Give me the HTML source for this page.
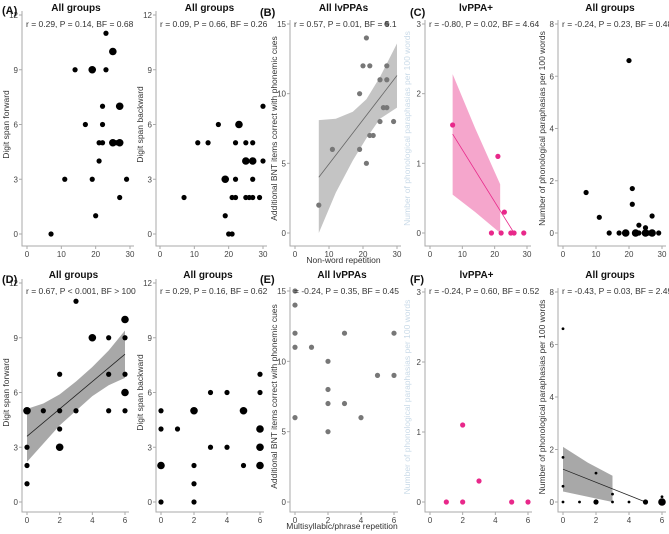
<!DOCTYPE html>
<html><head><meta charset="utf-8"><style>
body{margin:0;background:#fff;width:669px;height:534px;overflow:hidden}
svg{display:block;font-family:"Liberation Sans",sans-serif}
</style></head><body>
<svg id="fig" width="669" height="534"></svg>
<script>
// Panel data arrays
const a1X=[7,11,14,17,19,19,20,21,21,22,22,22,23,23,25,25,26,27,27,27,29];
const a1Y=[0,3,9,6,9,3,1,5,4,7,6,5,11,9,10,5,5,7,5,2,3];
const a1S=[0,0,0,0,1,0,0,0,0,0,0,0,0,0,1,1,0,1,1,0,0];
const a2X=[7,11,14,17,19,19,20,21,21,22,22,22,23,25,25,25,26,27,27,27,27,29,30,30];
const a2Y=[2,5,5,6,3,1,0,0,2,2,3,5,6,4,5,2,2,4,5,3,2,2,7,4];
const a2S=[0,0,0,0,1,0,0,0,0,0,0,0,1,1,0,0,0,1,0,0,0,0,0,0];
const bX=[7,11,19,19,20,21,21,22,22,23,25,25,26,27,27,27,29,27];
const bY=[2,6,10,6,12,14,5,12,7,7,11,8,9,12,11,9,8,15];
const cX=[7,21,23,19,22,25,26,29];
const cY=[1.55,1.1,0.3,0,0,0,0,0];
const c2X=[7,11,14,17,19,20,21,21,22,23,23,25,25,26,27,27,29];
const c2Y=[1.55,0.6,0,0,0,6.6,1.7,1.1,0,0.3,0,0.2,0,0,0.65,0,0];
const c2S=[0,0,0,0,1,0,0,0,1,0,0,0,1,0,0,1,0];
const dX=[0,0,0,0,1,2,2,2,2,3,3,4,5,5,5,6,6,6,6,6];
const dY=[5,3,2,1,5,7,5,4,3,11,5,9,9,7,5,10,9,7,6,5];
const dS=[1,0,0,0,0,0,0,0,1,0,0,1,0,0,0,1,0,0,1,0];
const d2X=[0,0,0,0,1,2,2,2,2,3,3,4,4,5,5,6,6,6,6,6];
const d2Y=[5,4,2,0,4,5,2,1,0,6,3,6,3,5,2,7,6,4,3,2];
const d2S=[0,0,1,0,0,1,0,0,0,0,0,0,0,1,0,0,0,1,1,1];
const eX=[0,0,0,0,0,1,2,2,2,2,3,3,4,5,6,6];
const eY=[15,14,12,11,6,11,10,8,7,5,12,7,6,9,12,9];
const fX=[1,2,2,3,5,6];
const fY=[0,1.1,0,0.3,0,0];
const f2X=[0,0,0,0,1,2,2,3,3,4,5,6,6];
const f2Y=[6.6,1.7,0.6,0,0,1.1,0,0.3,0,0,0,0.2,0];
const f2S=[0,0,0,0,0,0,1,0,0,0,1,0,2];
// fits: [x0,y0,x1,y1]; ribbons: x, lo, hi
const bFit=[7,4,30,11.3];
const bRibX=[7,12,17,21,25,30], bRibLo=[0,2.9,5.2,6.8,8.2,9], bRibHi=[8.1,8.2,8.7,9.6,11.2,13.6];
const cFit=[7,1.42,26,0];
const cRibX=[7,14,21.7], cRibLo=[0.55,0.3,0], cRibHi=[2.28,1.5,0.7];
const dFit=[0,3.6,6,8.1];
const dRibX=[0,1,2,3,4,5,6], dRibLo=[2.2,3.2,4.2,5.0,5.8,6.4,6.8], dRibHi=[5.1,5.4,5.9,6.6,7.4,8.3,9.4];
const fFit=[0,1.25,5,0];
const fRibX=[0,1.5,3], fRibLo=[0.4,0.2,0], fRibHi=[2.1,1.5,1.0];

const svg=document.getElementById('fig');
const NS='http://www.w3.org/2000/svg';
function el(tag,attrs,parent){const e=document.createElementNS(NS,tag);for(const k in attrs)e.setAttribute(k,attrs[k]);(parent||svg).appendChild(e);return e;}
function txt(s,attrs,parent){const e=el('text',attrs,parent);e.textContent=s;return e;}

function panel(p){
  const g=el('g',{});
  
  
  const sx=v=>p.x0+(v-p.xmin)/(p.xmax-p.xmin)*(p.x1-p.x0);
  const sy=v=>p.y0+(v-p.ymin)/(p.ymax-p.ymin)*(p.y1-p.y0);
  const ax=el('path',{d:`M${p.ax} ${sy(p.ymax)-4}V${p.ay}H${sx(p.xmax)+4}`,fill:'none',stroke:'#aaa','stroke-width':1},g);
  
  p.xt.forEach(v=>{el('line',{x1:sx(v),x2:sx(v),y1:p.ay,y2:p.ay+3,stroke:'#aaa'},g);
    const t=txt(v,{x:sx(v),y:p.ay+11,'font-size':8,fill:'#444','text-anchor':'middle'},g);
    });
  p.yt.forEach(v=>{el('line',{x1:p.ax-3,x2:p.ax,y1:sy(v),y2:sy(v),stroke:'#aaa'},g);
    const t=txt(v,{x:p.ax-4,y:sy(v)+3,'font-size':8,fill:'#444','text-anchor':'end'},g);
    });
  if(p.rib){let d='M'+p.rib[0].map((x,i)=>sx(x)+' '+sy(p.rib[2][i])).join('L');
    d+='L'+p.rib[0].map((x,i)=>sx(x)+' '+sy(p.rib[1][i])).reverse().join('L')+'Z';
    const r=el('path',{d,fill:p.ribc},g);}
  if(p.fit){const l=el('line',{x1:sx(p.fit[0]),y1:sy(p.fit[1]),x2:sx(p.fit[2]),y2:sy(p.fit[3]),stroke:p.fitc,'stroke-width':0.8},g);
    }
  p.X.forEach((x,i)=>{const s=p.S?p.S[i]:0;const r=p.r[s];
    const c=el('circle',{cx:sx(x),cy:sy(p.Y[i]),r,fill:p.col},g);
    });
  const st=txt(p.stat,{x:p.ax+4,y:p.sty,'font-size':8.5,fill:'#333'},g);
  
  const tt=txt(p.title,{x:(p.ax+sx(p.xmax))/2,y:p.ty,'font-size':10,'font-weight':'bold',fill:'#111','text-anchor':'middle'},g);
  
  const ymid=(sy(p.ymin)+sy(p.ymax))/2;
  const yl=txt(p.ylab,{x:p.ylx,y:ymid,'font-size':8.5,fill:p.ylc||'#333','text-anchor':'middle',transform:`rotate(-90 ${p.ylx} ${ymid})`},g);
  
  if(p.xlab){const xl=txt(p.xlab,{x:(p.ax+sx(p.xmax))/2,y:p.ay+17,'font-size':8.5,fill:'#333','text-anchor':'middle'},g);
    }
}
const T={y0:234,y1:15,ay:246,ty:11,sty:27};
const B={y0:502,y1:283,ay:512,ty:278,sty:294};
const DS='Digit span forward',DB='Digit span backward',BNT='Additional BNT items correct with phonemic cues',PP='Number of phonological paraphasias per 100 words';
const R=[2.6,3.8,4.5];
panel({name:'panel-a-forward',x0:27,x1:130,ax:22,...T,xmin:0,xmax:30,ymin:0,ymax:12,xt:[0,10,20,30],yt:[0,3,6,9,12],X:a1X,Y:a1Y,S:a1S,r:R,col:'#000',stat:'r = 0.29, P = 0.14, BF = 0.68',title:'All groups',ylab:DS,ylx:9});
panel({name:'panel-a-backward',x0:160,x1:263,ax:156,...T,xmin:0,xmax:30,ymin:0,ymax:12,xt:[0,10,20,30],yt:[0,3,6,9,12],X:a2X,Y:a2Y,S:a2S,r:R,col:'#000',stat:'r = 0.09, P = 0.66, BF = 0.26',title:'All groups',ylab:DB,ylx:143});
panel({name:'panel-b',x0:295,x1:397,ax:290,y0:233,y1:24,ay:246,ty:11,sty:27,xmin:0,xmax:30,ymin:0,ymax:15,xt:[0,10,20,30],yt:[0,5,10,15],X:bX,Y:bY,r:R,col:'#777',stat:'r = 0.57, P = 0.01, BF = 5.1',title:'All lvPPAs',ylab:BNT,ylx:277,xlab:'Non-word repetition',fit:bFit,fitc:'#666',rib:[bRibX,bRibLo,bRibHi],ribc:'#c4c4c4'});
panel({name:'panel-c-lvppa',x0:430,x1:527,ax:425,y0:233,y1:24,ay:246,ty:11,sty:27,xmin:0,xmax:30,ymin:0,ymax:3,xt:[0,10,20,30],yt:[0,1,2,3],X:cX,Y:cY,r:R,col:'#e8288a',stat:'r = -0.80, P = 0.02, BF = 4.64',title:'lvPPA+',ylab:PP,ylx:410,ylc:'#c9dae8',fit:cFit,fitc:'#e8288a',rib:[cRibX,cRibLo,cRibHi],ribc:'#f5a6cc'});
panel({name:'panel-c-all',x0:563,x1:662,ax:558,y0:233,y1:24,ay:246,ty:11,sty:27,xmin:0,xmax:30,ymin:0,ymax:8,xt:[0,10,20,30],yt:[0,2,4,6,8],X:c2X,Y:c2Y,S:c2S,r:R,col:'#000',stat:'r = -0.24, P = 0.23, BF = 0.48',title:'All groups',ylab:PP,ylx:545});
panel({name:'panel-d-forward',x0:27,x1:125,ax:22,...B,xmin:0,xmax:6,ymin:0,ymax:12,xt:[0,2,4,6],yt:[0,3,6,9,12],X:dX,Y:dY,S:dS,r:R,col:'#000',stat:'r = 0.67, P < 0.001, BF > 100',title:'All groups',ylab:DS,ylx:9,fit:dFit,fitc:'#222',rib:[dRibX,dRibLo,dRibHi],ribc:'#a8a8a8'});
panel({name:'panel-d-backward',x0:161,x1:260,ax:156,...B,xmin:0,xmax:6,ymin:0,ymax:12,xt:[0,2,4,6],yt:[0,3,6,9,12],X:d2X,Y:d2Y,S:d2S,r:R,col:'#000',stat:'r = 0.29, P = 0.16, BF = 0.62',title:'All groups',ylab:DB,ylx:143});
panel({name:'panel-e',x0:295,x1:394,ax:290,y0:502,y1:291,ay:512,ty:278,sty:294,xmin:0,xmax:6,ymin:0,ymax:15,xt:[0,2,4,6],yt:[0,5,10,15],X:eX,Y:eY,r:R,col:'#777',stat:'  = -0.24, P = 0.35, BF = 0.45',title:'All lvPPAs',ylab:BNT,ylx:277,xlab:'Multisyllabic/phrase repetition'});
panel({name:'panel-f-lvppa',x0:430,x1:528,ax:425,y0:502,y1:292,ay:512,ty:278,sty:294,xmin:0,xmax:6,ymin:0,ymax:3,xt:[0,2,4,6],yt:[0,1,2,3],X:fX,Y:fY,r:R,col:'#e8288a',stat:'r = -0.24, P = 0.60, BF = 0.52',title:'lvPPA+',ylab:PP,ylx:410,ylc:'#c9dae8'});
panel({name:'panel-f-all',x0:563,x1:662,ax:558,y0:502,y1:292,ay:512,ty:278,sty:294,xmin:0,xmax:6,ymin:0,ymax:8,xt:[0,2,4,6],yt:[0,2,4,6,8],X:f2X,Y:f2Y,S:f2S,r:[1.4,2.6,3.8],col:'#000',stat:'r = -0.43, P = 0.03, BF = 2.49',title:'All groups',ylab:PP,ylx:545,fit:fFit,fitc:'#222',rib:[fRibX,fRibLo,fRibHi],ribc:'#a8a8a8'});
[['(A)',2,14],['(B)',260,16],['(C)',410,16],['(D)',2,283],['(E)',260,283],['(F)',410,283]].forEach(l=>{
  const t=txt(l[0],{x:l[1],y:l[2],'font-size':11,'font-weight':'bold',fill:'#111'});
  
  
});
</script>
</body></html>
